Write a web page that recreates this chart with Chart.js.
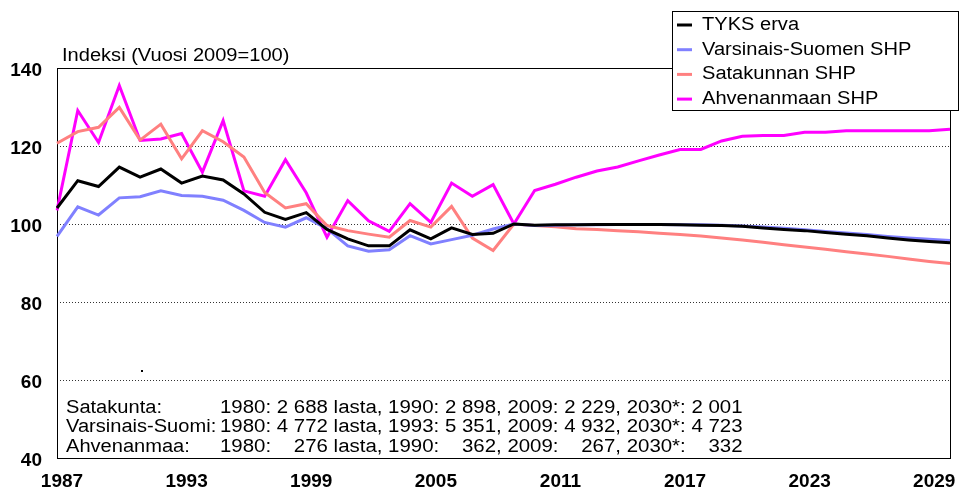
<!DOCTYPE html>
<html>
<head>
<meta charset="utf-8">
<script src="https://cdn.jsdelivr.net/npm/chart.js@4.4.0/dist/chart.umd.min.js"></script>
<style>
  html, body { margin: 0; padding: 0; background: #fff; }
  #wrap { width: 962px; height: 489px; }
</style>
</head>
<body>
<div id="wrap"><canvas id="chart" width="962" height="489"></canvas></div>
<script>
// categories (1987 - 2030*)
const years = [1987, 1988, 1989, 1990, 1991, 1992, 1993, 1994, 1995, 1996, 1997, 1998, 1999, 2000, 2001,
  2002, 2003, 2004, 2005, 2006, 2007, 2008, 2009, 2010, 2011, 2012, 2013, 2014, 2015, 2016, 2017,
  2018, 2019, 2020, 2021, 2022, 2023, 2024, 2025, 2026, 2027, 2028, 2029, 2030];

// index values, 2009 = 100
const tyksErva = [104.1, 111.1, 109.6, 114.6, 112.0, 114.1, 110.5, 112.3, 111.3, 107.7, 103.0, 101.2, 102.9, 98.6, 96.2,
  94.4, 94.4, 98.5, 96.2, 99.0, 97.3, 97.6, 100, 99.7, 99.8, 99.8, 99.9, 99.9, 99.9, 99.9, 99.8,
  99.7, 99.6, 99.4, 99.0, 98.6, 98.3, 97.8, 97.4, 97.0, 96.4, 95.9, 95.5, 95.2];
const varsinaisSuomi = [96.8, 104.4, 102.3, 106.7, 107.0, 108.5, 107.3, 107.1, 106.1, 103.5, 100.4, 99.2, 101.6, 98.8, 94.4,
  93.0, 93.4, 97.0, 94.9, 96.0, 97.1, 98.7, 100, 99.6, 99.7, 99.8, 99.8, 99.9, 99.9, 99.9, 99.8,
  99.8, 99.7, 99.5, 99.2, 98.9, 98.5, 98.1, 97.7, 97.3, 96.8, 96.4, 96.1, 95.8];
const satakunta = [120.7, 123.7, 124.8, 129.9, 121.5, 125.6, 116.7, 123.9, 121.1, 117.2, 108.1, 104.1, 105.2, 99.6, 98.3,
  97.4, 96.6, 100.9, 99.2, 104.5, 96.4, 93.2, 100, 99.6, 99.3, 98.8, 98.6, 98.3, 98.0, 97.6, 97.3,
  96.9, 96.4, 95.9, 95.3, 94.7, 94.1, 93.5, 92.9, 92.3, 91.7, 91.0, 90.4, 89.9];
const ahvenanmaa = [103.5, 129.1, 120.9, 135.5, 121.4, 121.8, 123.2, 113.3, 126.5, 108.5, 107.1, 116.5, 108.0, 96.6, 106.0,
  100.8, 98.1, 105.2, 100.4, 110.5, 107.1, 110.1, 100, 108.6, 110.2, 112.0, 113.6, 114.6, 116.2, 117.7, 119.1,
  119.1, 121.3, 122.5, 122.7, 122.7, 123.5, 123.5, 123.9, 123.9, 123.9, 123.9, 123.9, 124.3];

const seriesNames = ['TYKS erva', 'Varsinais-Suomen SHP', 'Satakunnan SHP', 'Ahvenanmaan SHP'];
const seriesColors = ['#000000', '#8080ff', '#ff8080', '#ff00ff'];

// tick labels
const xTickLabels = [1987, 1993, 1999, 2005, 2011, 2017, 2023, 2029];
const yMin = 40, yMax = 140, yStep = 20;

const yTitle = 'Indeksi (Vuosi 2009=100)';
const noteLabels = ['Satakunta:', 'Varsinais-Suomi:', 'Ahvenanmaa:'];
const noteValues = [
  '1980: 2 688 lasta, 1990: 2 898, 2009: 2 229, 2030*: 2 001',
  '1980: 4 772 lasta, 1993: 5 351, 2009: 4 932, 2030*: 4 723',
  '1980: \u2007 276 lasta, 1990: \u2007 362, 2009: \u2007 267, 2030*: \u2007 332'
];

const FONT = '"Liberation Sans", Arial, sans-serif';
const STRETCH = 1.115; // text in the picture is a bit wide

function wideText(ctx, text, x, y, sx) {
  ctx.save();
  ctx.translate(x, y);
  ctx.scale(sx || STRETCH, 1);
  ctx.fillText(text, 0, 0);
  ctx.restore();
}

// frame round the plot area
const framePlugin = {
  id: 'frame',
  beforeDatasetsDraw(chart) {
    const { ctx, chartArea: a } = chart;
    ctx.save();
    ctx.strokeStyle = '#000';
    ctx.lineWidth = 1;
    ctx.strokeRect(Math.round(a.left) + 0.5, Math.round(a.top) + 0.5,
      Math.round(a.right - a.left), Math.round(a.bottom - a.top));
    ctx.restore();
  }
};

// title, notes and legend box
const extrasPlugin = {
  id: 'extras',
  afterDraw(chart) {
    const { ctx, chartArea: a } = chart;
    ctx.save();
    ctx.fillStyle = '#000';
    ctx.textBaseline = 'middle';
    ctx.textAlign = 'left';
    ctx.font = '18px ' + FONT;
    wideText(ctx, yTitle, a.left + 5, 56);

    // notes in the lower left
    noteLabels.forEach((lab, i) => {
      const y = 408 + i * 19.5;
      wideText(ctx, lab, a.left + 9, y);
      wideText(ctx, noteValues[i], 220, y, 1.135);
    });
    ctx.fillRect(141, 370, 2, 2);

    // legend
    const lx = 672, ly = 11, lw = 286, lh = 99;
    ctx.fillStyle = '#fff';
    ctx.fillRect(lx, ly, lw, lh);
    ctx.strokeStyle = '#000';
    ctx.lineWidth = 1;
    ctx.strokeRect(lx + 0.5, ly + 0.5, lw, lh);
    seriesNames.forEach((name, i) => {
      const y = 25 + i * 24.7;
      ctx.strokeStyle = seriesColors[i];
      ctx.lineWidth = 3;
      ctx.beginPath();
      ctx.moveTo(677, y);
      ctx.lineTo(692, y);
      ctx.stroke();
      ctx.fillStyle = '#000';
      wideText(ctx, name, 702, y);
    });
    ctx.restore();
  }
};

const datasets = [tyksErva, varsinaisSuomi, satakunta, ahvenanmaa].map((vals, i) => ({
  label: seriesNames[i],
  data: vals,
  borderColor: seriesColors[i],
  backgroundColor: seriesColors[i],
  borderWidth: 3,
  pointRadius: 0,
  tension: 0,
  fill: false
}));

new Chart(document.getElementById('chart'), {
  type: 'line',
  data: { labels: years.map(String), datasets: datasets },
  plugins: [framePlugin, extrasPlugin],
  options: {
    responsive: false,
    animation: false,
    layout: { padding: { top: 68, right: 8, left: 0, bottom: 0 } },
    plugins: { legend: { display: false }, tooltip: { enabled: false } },
    scales: {
      x: {
        type: 'category',
        offset: false,
        grid: { display: false, drawTicks: false },
        border: { display: false },
        ticks: {
          autoSkip: false,
          maxRotation: 0,
          padding: 12,
          labelOffset: 5,
          color: '#000',
          font: { family: FONT, size: 19, weight: 'bold' },
          callback: function (v, idx) {
            const yr = years[idx];
            return xTickLabels.includes(yr) ? String(yr) : '';
          }
        },
        afterFit(scale) { scale.height = 31; }
      },
      y: {
        min: yMin,
        max: yMax,
        grid: { color: '#333', lineWidth: 1, drawTicks: false },
        border: { display: false, dash: [1, 2] },
        ticks: {
          stepSize: yStep,
          padding: 15,
          labelOffset: 3,
          color: '#000',
          font: { family: FONT, size: 19, weight: 'bold' }
        },
        afterFit(scale) { scale.width = 57; }
      }
    }
  }
});
</script>
</body>
</html>
